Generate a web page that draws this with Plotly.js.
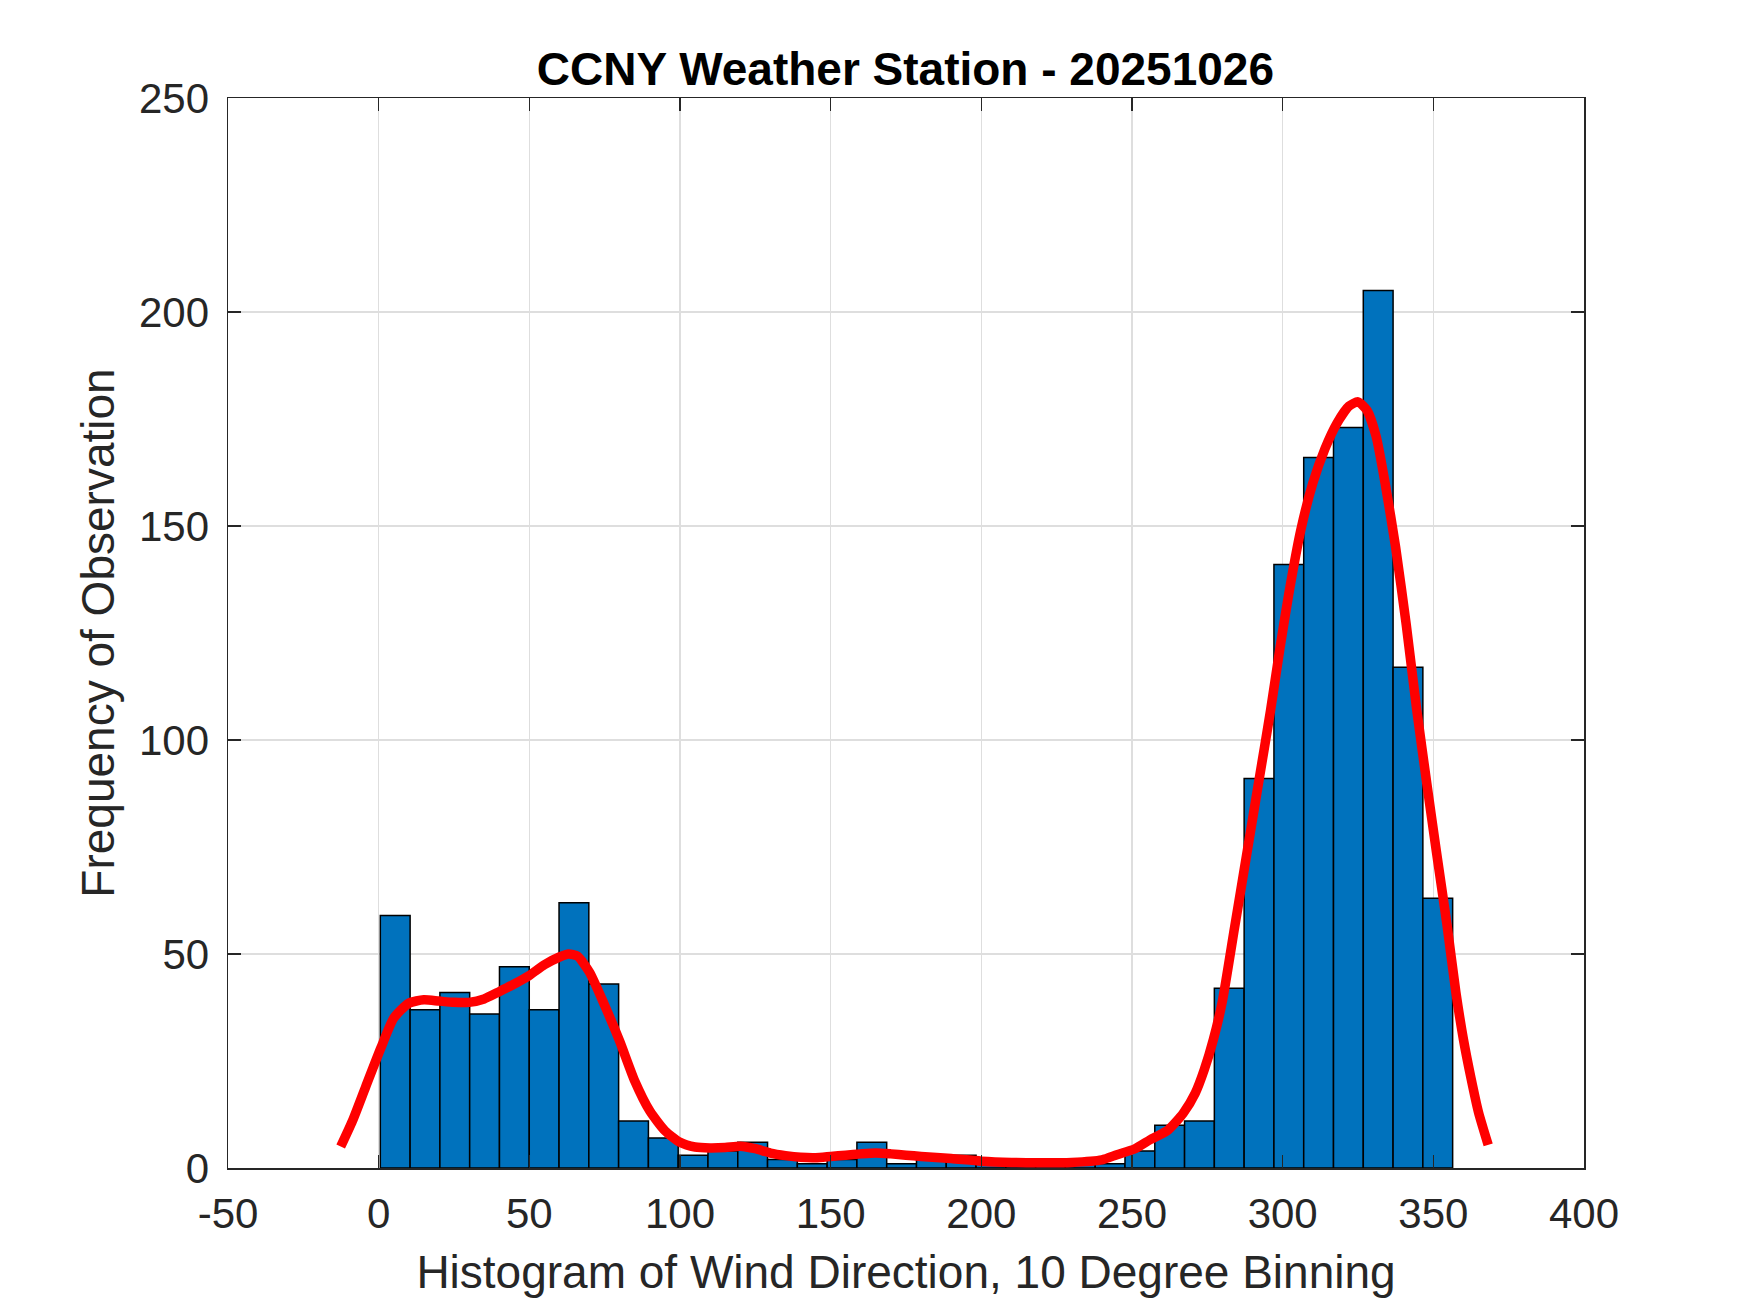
<!DOCTYPE html>
<html>
<head>
<meta charset="utf-8">
<script src="https://cdn.plot.ly/plotly-3.0.1.min.js"></script>
<style>
  html, body { margin: 0; padding: 0; background: #fff; }
  #plot { width: 1750px; height: 1313px; }
</style>
</head>
<body>
<div id="plot"></div>
<script>
// histogram bins (36 bins, ~10 degrees each)
const binStart = 0.55;
const binWidth = 9.885;
const windCounts = [59, 37, 41, 36, 47, 37, 62, 43, 11, 7, 3, 4, 6, 2, 1, 2, 6, 1,
                    2, 3, 1, 1, 1, 1, 1, 4, 10, 11, 42, 91, 141, 166, 173, 205, 117, 63];

// smoothed density curve (scaled to counts)
const smoothX = [-12.6, -8.7, -4.3, 0.7, 5, 10, 15, 20, 25, 30, 35, 40, 45, 50, 55, 60, 63, 66,
                 70, 75, 80, 85, 90, 95, 100, 105, 110, 115, 120, 125, 130, 135, 140, 145, 150,
                 155, 160, 165, 170, 175, 180, 190, 200, 210, 220, 230, 240, 245, 251, 256, 262,
                 267, 271, 274, 277, 280, 284, 288, 292, 296, 299, 302, 306, 310, 314, 318, 322, 325,
                 328, 331, 334, 337.5, 341, 344.5, 348, 351, 354.5, 357.5, 360, 362.5, 365, 368.2];
const smoothY = [5, 11, 19, 28, 35, 38.5, 39.3, 39, 38.7, 38.7, 39.5, 41.2, 43, 45, 47.5, 49.3, 50, 49.5,
                 45.7, 38, 29.6, 20.3, 13.3, 8.7, 6.0, 4.9, 4.7, 4.8, 5.1, 4.5, 3.5, 2.9, 2.5, 2.4, 2.7,
                 3.0, 3.3, 3.5, 3.3, 3.0, 2.7, 2.2, 1.6, 1.3, 1.2, 1.3, 1.9, 3.1, 4.5, 6.6, 8.9,
                 12.8, 17.5, 23, 30, 39, 56, 73, 90, 107, 121, 134, 149, 160, 168, 174, 178, 179,
                 177, 171, 160, 145, 127, 107, 89, 74, 57, 41, 30, 21, 13, 5.4];

const xTicks = [-50, 0, 50, 100, 150, 200, 250, 300, 350, 400];
const yTicks = [0, 50, 100, 150, 200, 250];

const binCenters = windCounts.map((_, i) => binStart + (i + 0.5) * binWidth);

const FONT = 'Liberation Sans, Arial, Helvetica, sans-serif';
const INK = '#262626';

const data = [
  {
    type: 'bar',
    x: binCenters,
    y: windCounts,
    width: binWidth,
    marker: { color: '#0072BD', line: { color: '#000000', width: 1.5 } },
    hoverinfo: 'x+y'
  },
  {
    type: 'scatter',
    mode: 'lines',
    x: smoothX,
    y: smoothY,
    line: { color: '#FF0000', width: 9.5, shape: 'spline', smoothing: 0.6 },
    hoverinfo: 'x+y'
  }
];

const axisCommon = {
  showgrid: true,
  gridcolor: '#DEDEDE',
  gridwidth: 1.5,
  zeroline: false,
  showline: true,
  linecolor: INK,
  linewidth: 1.5,
  mirror: 'ticks',
  ticks: 'inside',
  ticklen: 13,
  tickwidth: 1.5,
  tickcolor: INK,
  tickfont: { family: FONT, size: 42, color: INK }
};

const layout = {
  width: 1750,
  height: 1313,
  showlegend: false,
  paper_bgcolor: '#ffffff',
  plot_bgcolor: '#ffffff',
  margin: { l: 228, r: 166, t: 98, b: 145 },
  title: {
    text: '<b>CCNY Weather Station - 20251026</b>',
    font: { family: FONT, size: 46, color: '#000000' },
    x: 0.5174, xanchor: 'center',
    y: 1 - 69 / 1313, yanchor: 'middle'
  },
  xaxis: Object.assign({}, axisCommon, {
    range: [-50, 400],
    tickvals: xTicks,
    ticktext: xTicks.map(String),
    ticklabelstandoff: 8,
    title: {
      text: 'Histogram of Wind Direction, 10 Degree Binning',
      font: { family: FONT, size: 46, color: INK },
      standoff: 20
    }
  }),
  yaxis: Object.assign({}, axisCommon, {
    range: [0, 250],
    tickvals: yTicks,
    ticktext: yTicks.map(String),
    ticklabelstandoff: 9,
    title: {
      text: 'Frequency of Observation',
      font: { family: FONT, size: 46, color: INK },
      standoff: 10
    }
  })
};

Plotly.newPlot('plot', data, layout, { displayModeBar: false, staticPlot: true });
</script>
</body>
</html>
